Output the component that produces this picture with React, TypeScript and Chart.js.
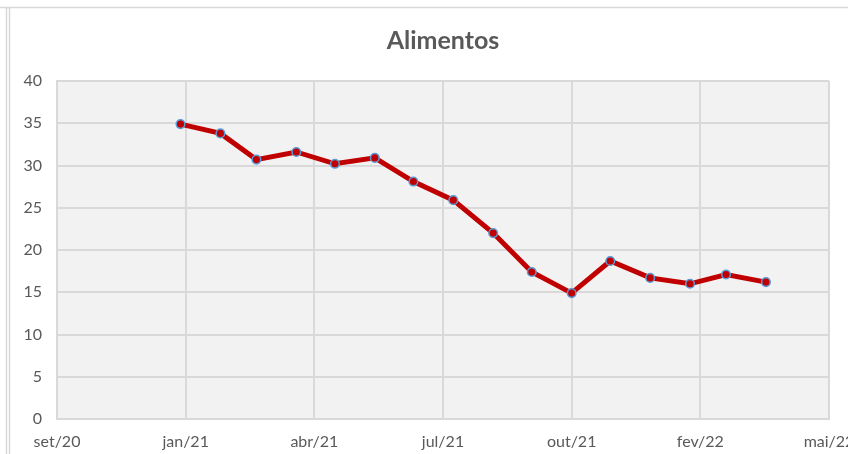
import React, { useEffect, useRef } from "react";
import { Chart, registerables } from "chart.js";

Chart.register(...registerables);

const chartTitle = "Alimentos";
const axisStart = "2020-09-26";
const tickStepDays = 100;
const tickLabels = ["set/20", "jan/21", "abr/21", "jul/21", "out/21", "fev/22", "mai/22"];
const dates = [
  "2020-12-31", "2021-01-31", "2021-02-28", "2021-03-31", "2021-04-30", "2021-05-31",
  "2021-06-30", "2021-07-31", "2021-08-31", "2021-09-30", "2021-10-31", "2021-11-30",
  "2021-12-31", "2022-01-31", "2022-02-28", "2022-03-31",
];
const values = [34.9, 33.8, 30.7, 31.6, 30.2, 30.9, 28.1, 25.9, 22.0, 17.4, 14.9, 18.7, 16.7, 16.0, 17.1, 16.2];
const yTicks = [0, 5, 10, 15, 20, 25, 30, 35, 40];

const DAY = 86400000;
const dayOffset = (d: string) => Math.round((Date.parse(d) - Date.parse(axisStart)) / DAY);

export default function App() {
  const ref = useRef<HTMLCanvasElement | null>(null);

  useEffect(() => {
    if (!ref.current) return;
    const bgPlugin = {
      id: "bgPlugin",
      beforeDraw(chart: any) {
        const { ctx, chartArea } = chart;
        ctx.save();
        ctx.fillStyle = "#f2f2f2";
        ctx.fillRect(chartArea.left, chartArea.top, chartArea.right - chartArea.left, chartArea.bottom - chartArea.top);
        ctx.restore();
      },
      afterDraw(chart: any) {
        const { ctx } = chart;
        ctx.save();
        ctx.strokeStyle = "#d9d9d9";
        ctx.lineWidth = 1.5;
        ctx.beginPath();
        ctx.moveTo(0, 7.5);
        ctx.lineTo(chart.width, 7.5);
        ctx.moveTo(6.5, 8);
        ctx.lineTo(6.5, chart.height);
        ctx.moveTo(9.5, 7.5);
        ctx.lineTo(9.5, chart.height);
        ctx.stroke();
        ctx.fillStyle = "#595959";
        ctx.font = "bold 25px Lato";
        ctx.textAlign = "center";
        ctx.textBaseline = "middle";
        ctx.fillText(chartTitle, 443, 41);
        ctx.restore();
      },
    };

    const chart = new Chart(ref.current, {
      type: "line",
      data: {
        datasets: [
          {
            data: dates.map((d, i) => ({ x: dayOffset(d), y: values[i] })),
            borderColor: "#c00000",
            borderWidth: 5,
            tension: 0,
            pointRadius: 4.3,
            pointBackgroundColor: "#c00000",
            pointBorderColor: "#5b9bd5",
            pointBorderWidth: 1.5,
            clip: false as any,
          },
        ],
      },
      options: {
        responsive: false,
        animation: false,
        devicePixelRatio: 1,
        layout: { padding: { left: 0, right: 51, top: 81, bottom: 0 } },
        plugins: { legend: { display: false }, tooltip: { enabled: false }, title: { display: false } },
        scales: {
          x: {
            type: "linear",
            min: 0,
            max: (tickLabels.length - 1) * tickStepDays,
            afterFit: (s: any) => { s.height = 35; },
            grid: { color: "#d9d9d9", lineWidth: 2, drawTicks: false },
            border: { color: "#d9d9d9", width: 2 },
            ticks: {
              stepSize: tickStepDays,
              padding: 13,
              color: "#595959",
              font: { family: "Lato", size: 16 },
              maxRotation: 0,
              autoSkip: false,
              callback: (_v: any, i: number) => tickLabels[i],
            },
          },
          y: {
            min: yTicks[0],
            max: yTicks[yTicks.length - 1],
            afterFit: (s: any) => { s.width = 57; },
            grid: { color: "#d9d9d9", lineWidth: 2, drawTicks: false },
            border: { color: "#d9d9d9", width: 2 },
            ticks: {
              stepSize: yTicks[1] - yTicks[0],
              padding: 15,
              color: "#595959",
              font: { family: "Lato", size: 16 },
            },
          },
        },
      },
      plugins: [bgPlugin],
    });
    return () => chart.destroy();
  }, []);

  return (
    <div style={{ position: "absolute", left: 0, top: 0, width: 848, height: 454, overflow: "hidden", background: "#fff" }}>
      <canvas ref={ref} width={880} height={454} style={{ display: "block", width: 880, height: 454 }} />
    </div>
  );
}
